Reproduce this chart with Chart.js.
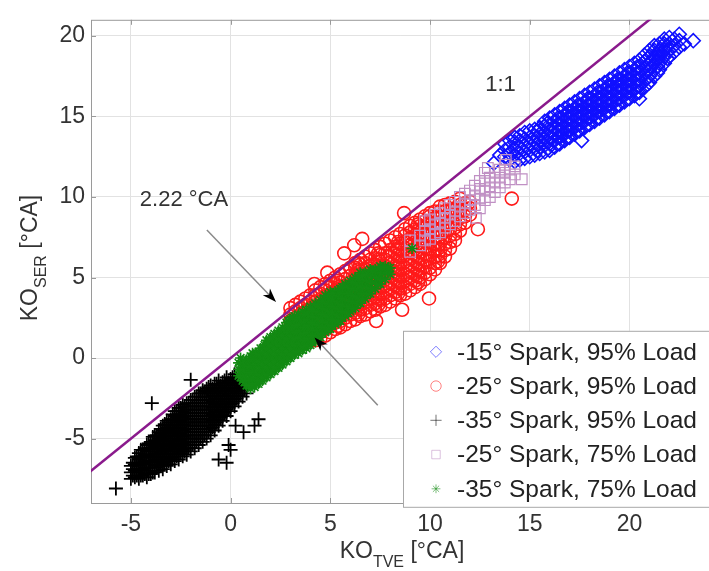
<!DOCTYPE html>
<html>
<head>
<meta charset="utf-8">
<script src="https://cdn.jsdelivr.net/npm/chart.js@4/dist/chart.umd.min.js"></script>
<style>
  html, body { margin: 0; padding: 0; background: #fff; overflow: hidden; }
  #wrap { width: 709px; height: 571px; overflow: hidden; }
</style>
</head>
<body>
<div id="wrap"><canvas id="koChart" width="718" height="571"></canvas></div>
<script>
// --- datos ---
const xLimits = [-7, 24];
const yLimits = [-9, 21];
const xTicks = [-5, 0, 5, 10, 15, 20];
const yTicks = [-5, 0, 5, 10, 15, 20];

const seriesLabels = [
    '-15° Spark, 95% Load',
    '-25° Spark, 95% Load',
    '-35° Spark, 95% Load',
    '-25° Spark, 75% Load',
    '-35° Spark, 75% Load'
];

// Cada fila: [KO_TVE, KO_SER, KO_SER, ...] leída columna a columna de la nube

// -15° Spark, 95% Load (diamantes azules)
const spark15Load95 = [
    [13.2, 12.1], [13.5, 12.6], [13.75, 12.5, 12.9, 13.3], [14.0, 12.3, 12.7, 13.1, 13.5],
    [14.25, 12.2, 12.6, 13.0, 13.4, 13.7], [14.5, 12.3, 12.7, 13.1, 13.5, 13.8],
    [14.75, 12.4, 12.8, 13.2, 13.6, 14.0], [15.0, 12.5, 12.9, 13.3, 13.7, 14.1],
    [15.25, 12.6, 13.0, 13.4, 13.8, 14.2], [15.5, 12.7, 13.1, 13.5, 13.9, 14.3],
    [15.75, 12.8, 13.2, 13.6, 14.0, 14.4, 14.7], [16.0, 12.9, 13.3, 13.7, 14.1, 14.5, 14.9],
    [16.25, 13.1, 13.5, 13.9, 14.3, 14.7, 15.1], [16.5, 13.3, 13.7, 14.1, 14.5, 14.9, 15.3],
    [16.75, 13.5, 13.9, 14.3, 14.7, 15.1, 15.5], [17.0, 13.7, 14.1, 14.5, 14.9, 15.3, 15.7],
    [17.25, 13.9, 14.3, 14.7, 15.1, 15.5, 15.9], [17.5, 14.1, 14.5, 14.9, 15.3, 15.7, 16.1],
    [17.6, 13.5], [17.75, 14.3, 14.7, 15.1, 15.5, 15.9, 16.3], [18.0, 14.5, 14.9, 15.3, 15.7, 16.1, 16.5],
    [18.25, 14.7, 15.1, 15.5, 15.9, 16.3, 16.7], [18.5, 14.9, 15.3, 15.7, 16.1, 16.5, 16.9],
    [18.75, 15.1, 15.5, 15.9, 16.3, 16.7, 17.1], [19.0, 15.3, 15.7, 16.1, 16.5, 16.9, 17.3],
    [19.25, 15.5, 15.9, 16.3, 16.7, 17.1, 17.5], [19.5, 15.7, 16.1, 16.5, 16.9, 17.3, 17.7],
    [19.75, 15.9, 16.3, 16.7, 17.1, 17.5, 17.9], [20.0, 16.1, 16.5, 16.9, 17.3, 17.7, 18.1],
    [20.25, 16.3, 16.7, 17.1, 17.5, 17.9, 18.3], [20.5, 16.1, 16.5, 16.9, 17.3, 17.7, 18.1, 18.5],
    [20.75, 16.8, 17.2, 17.6, 18.0, 18.4, 18.8], [21.0, 17.1, 17.5, 17.9, 18.3, 18.7, 19.1],
    [21.25, 17.5, 17.9, 18.3, 18.7, 19.1, 19.4], [21.5, 17.9, 18.3, 18.7, 19.1, 19.5],
    [21.75, 18.3, 18.7, 19.1, 19.5, 19.8], [22.0, 18.7, 19.1, 19.5, 19.9],
    [22.25, 19.0, 19.4, 19.8], [22.5, 19.3, 19.7, 20.1], [22.75, 19.5], [23.2, 19.7],
    // columnas intermedias
    [15.4, 12.9, 13.3, 13.7, 14.1], [15.9, 13.0, 13.4, 13.8, 14.2, 14.6], [16.4, 13.3, 13.7, 14.1, 14.5, 14.9],
    [16.9, 13.7, 14.1, 14.5, 14.9, 15.3], [17.4, 14.1, 14.5, 14.9, 15.3, 15.7], [17.9, 14.5, 14.9, 15.3, 15.7, 16.1],
    [18.4, 14.9, 15.3, 15.7, 16.1, 16.5], [18.9, 15.3, 15.7, 16.1, 16.5, 16.9], [19.4, 15.7, 16.1, 16.5, 16.9, 17.3],
    [19.9, 16.1, 16.5, 16.9, 17.3, 17.7], [20.4, 16.5, 16.9, 17.3, 17.7, 18.1], [20.9, 17.0, 17.4, 17.8, 18.2, 18.6],
    [21.4, 17.7, 18.1, 18.5, 18.9], [21.9, 18.6, 19.0, 19.4]
];

// -25° Spark, 95% Load (círculos rojos)
const spark25Load95 = [
    [3.0, 1.9, 2.3, 2.7, 3.1], [3.25, 1.7, 2.1, 2.5, 2.9, 3.3], [3.5, 1.5, 1.9, 2.3, 2.7, 3.1, 3.5],
    [3.75, 1.3, 1.7, 2.1, 2.5, 2.9, 3.3, 3.7], [4.0, 1.1, 1.5, 1.9, 2.3, 2.7, 3.1, 3.5, 3.9],
    [4.2, 4.6], [4.25, 1.1, 1.5, 1.9, 2.3, 2.7, 3.1, 3.5, 3.9, 4.2],
    [4.5, 1.2, 1.6, 2.0, 2.4, 2.8, 3.2, 3.6, 4.0, 4.4],
    [4.75, 1.4, 1.8, 2.2, 2.6, 3.0, 3.4, 3.8, 4.2, 4.6], [4.85, 5.3],
    [5.0, 1.6, 2.0, 2.4, 2.8, 3.2, 3.6, 4.0, 4.4, 4.8],
    [5.25, 1.8, 2.2, 2.6, 3.0, 3.4, 3.8, 4.2, 4.6, 5.0],
    [5.5, 1.9, 2.3, 2.7, 3.1, 3.5, 3.9, 4.3, 4.7, 5.2], [5.7, 6.5],
    [5.75, 2.1, 2.5, 2.9, 3.3, 3.7, 4.1, 4.5, 4.9, 5.4],
    [6.0, 2.3, 2.7, 3.1, 3.5, 3.9, 4.3, 4.7, 5.1, 5.6], [6.2, 7.0],
    [6.25, 2.4, 2.8, 3.2, 3.6, 4.0, 4.4, 4.8, 5.2, 5.6, 5.9],
    [6.5, 2.6, 3.0, 3.4, 3.8, 4.2, 4.6, 5.0, 5.4, 5.8, 6.1], [6.6, 7.4],
    [6.75, 2.7, 3.1, 3.5, 3.9, 4.3, 4.7, 5.1, 5.5, 5.9, 6.3],
    [7.0, 2.9, 3.3, 3.7, 4.1, 4.5, 4.9, 5.3, 5.7, 6.1, 6.5],
    [7.25, 3.0, 3.4, 3.8, 4.2, 4.6, 5.0, 5.4, 5.8, 6.2, 6.7], [7.3, 2.3],
    [7.5, 3.2, 3.6, 4.0, 4.4, 4.8, 5.2, 5.6, 6.0, 6.4, 6.9],
    [7.75, 3.3, 3.7, 4.1, 4.5, 4.9, 5.3, 5.7, 6.1, 6.5, 7.1],
    [8.0, 3.5, 3.9, 4.3, 4.7, 5.1, 5.5, 5.9, 6.3, 6.7, 7.3],
    [8.25, 3.7, 4.1, 4.5, 4.9, 5.3, 5.7, 6.1, 6.5, 6.9, 7.5],
    [8.5, 3.9, 4.3, 4.7, 5.1, 5.5, 5.9, 6.3, 6.7, 7.1, 7.7], [8.6, 3.0], [8.7, 9.0],
    [8.75, 4.0, 4.4, 4.8, 5.2, 5.6, 6.0, 6.4, 6.8, 7.2, 7.6, 8.0],
    [9.0, 4.2, 4.6, 5.0, 5.4, 5.8, 6.2, 6.6, 7.0, 7.4, 7.8, 8.2],
    [9.25, 4.4, 4.8, 5.2, 5.6, 6.0, 6.4, 6.8, 7.2, 7.6, 8.0, 8.4],
    [9.5, 4.6, 5.0, 5.4, 5.8, 6.2, 6.6, 7.0, 7.4, 7.8, 8.2, 8.6],
    [9.75, 4.9, 5.3, 5.7, 6.1, 6.5, 6.9, 7.3, 7.7, 8.1, 8.5, 8.8], [9.95, 3.7],
    [10.0, 5.2, 5.6, 6.0, 6.4, 6.8, 7.2, 7.6, 8.0, 8.4, 8.8, 9.0],
    [10.25, 5.5, 5.9, 6.3, 6.7, 7.1, 7.5, 7.9, 8.3, 8.7, 9.1],
    [10.5, 5.9, 6.3, 6.7, 7.1, 7.5, 7.9, 8.3, 8.7, 9.1, 9.4],
    [10.75, 6.3, 6.7, 7.1, 7.5, 7.9, 8.3, 8.7, 9.1, 9.5],
    [11.0, 6.8, 7.2, 7.6, 8.0, 8.4, 8.8, 9.2, 9.6], [11.25, 7.3, 7.7, 8.1, 8.5, 8.9, 9.3, 9.7],
    [11.5, 7.9, 8.3, 8.7, 9.1, 9.5, 9.9], [11.75, 8.4, 8.8, 9.2, 9.6], [12.0, 8.9, 9.3, 9.7],
    [12.4, 8.0], [14.1, 9.9],
    // columnas intermedias
    [5.4, 2.0, 2.4, 2.8, 3.2, 3.6, 4.0, 4.4, 4.8], [6.4, 2.7, 3.1, 3.5, 3.9, 4.3, 4.7, 5.1, 5.5, 5.9],
    [7.4, 3.3, 3.7, 4.1, 4.5, 4.9, 5.3, 5.7, 6.1, 6.5], [8.4, 4.0, 4.4, 4.8, 5.2, 5.6, 6.0, 6.4, 6.8, 7.2],
    [9.4, 4.7, 5.1, 5.5, 5.9, 6.3, 6.7, 7.1, 7.5, 7.9, 8.3], [10.4, 6.0, 6.4, 6.8, 7.2, 7.6, 8.0, 8.4, 8.8]
];

// -35° Spark, 95% Load (cruces negras)
const spark35Load95 = [
    [-5.75, -8.1], [-5.0, -7.5, -7.1, -6.7], [-4.8, -7.4, -7.0, -6.6, -6.2],
    [-4.6, -7.5, -7.1, -6.7, -6.3, -5.9], [-4.4, -7.3, -6.9, -6.5, -6.1, -5.7],
    [-4.2, -7.4, -7.0, -6.6, -6.2, -5.8, -5.4], [-4.0, -7.2, -6.8, -6.4, -6.0, -5.6, -5.2],
    [-3.95, -2.8], [-3.8, -7.1, -6.7, -6.3, -5.9, -5.5, -5.1, -4.8],
    [-3.6, -7.0, -6.6, -6.2, -5.8, -5.4, -5.0, -4.6],
    [-3.4, -6.9, -6.5, -6.1, -5.7, -5.3, -4.9, -4.5, -4.2],
    [-3.2, -6.7, -6.3, -5.9, -5.5, -5.1, -4.7, -4.3, -3.9],
    [-3.0, -6.6, -6.2, -5.8, -5.4, -5.0, -4.6, -4.2, -3.8],
    [-2.8, -6.4, -6.0, -5.6, -5.2, -4.8, -4.4, -4.0, -3.6, -3.3],
    [-2.6, -6.3, -5.9, -5.5, -5.1, -4.7, -4.3, -3.9, -3.5, -3.1],
    [-2.4, -6.1, -5.7, -5.3, -4.9, -4.5, -4.1, -3.7, -3.3, -2.9],
    [-2.2, -6.0, -5.6, -5.2, -4.8, -4.4, -4.0, -3.6, -3.2, -2.8],
    [-2.0, -5.8, -5.4, -5.0, -4.6, -4.2, -3.8, -3.4, -3.0, -2.6, -1.35],
    [-1.8, -5.6, -5.2, -4.8, -4.4, -4.0, -3.6, -3.2, -2.8, -2.4],
    [-1.6, -5.4, -5.0, -4.6, -4.2, -3.8, -3.4, -3.0, -2.6, -2.2],
    [-1.4, -5.2, -4.8, -4.4, -4.0, -3.6, -3.2, -2.8, -2.4, -2.0],
    [-1.2, -5.0, -4.6, -4.2, -3.8, -3.4, -3.0, -2.6, -2.2, -1.9],
    [-1.0, -4.8, -4.4, -4.0, -3.6, -3.2, -2.8, -2.4, -2.0, -1.7],
    [-0.8, -4.5, -4.1, -3.7, -3.3, -2.9, -2.5, -2.1, -1.6],
    [-0.6, -6.3, -4.2, -3.8, -3.4, -3.0, -2.6, -2.2, -1.8, -1.4],
    [-0.4, -3.9, -3.5, -3.1, -2.7, -2.3, -1.9, -1.5],
    [-0.2, -6.5, -3.6, -3.2, -2.8, -2.4, -2.0, -1.6, -1.2],
    [-0.1, -5.4], [0.0, -5.7, -3.3, -2.9, -2.5, -2.1, -1.7, -1.3],
    [0.2, -3.0, -2.6, -2.2, -1.8, -1.4, -1.0], [0.25, -4.2],
    [0.4, -2.7, -2.3, -1.9, -1.5, -1.1], [0.6, -2.4, -2.0, -1.6], [0.65, -4.6],
    [0.8, -2.2, -1.8], [1.2, -4.2], [1.4, -3.8],
    // columnas intermedias
    [-4.9, -7.3, -6.9, -6.5], [-4.7, -7.3, -6.9, -6.5, -6.1], [-4.5, -7.3, -6.9, -6.5, -6.1, -5.7],
    [-4.3, -7.2, -6.8, -6.4, -6.0, -5.6], [-4.1, -7.2, -6.8, -6.4, -6.0, -5.6, -5.3],
    [-3.9, -7.1, -6.5, -6.1, -5.7, -5.3, -4.9], [-3.7, -6.8, -6.4, -6.0, -5.6, -5.2, -4.8],
    [-3.5, -6.7, -6.3, -5.9, -5.5, -5.1, -4.7, -4.4], [-3.3, -6.5, -6.1, -5.7, -5.3, -4.9, -4.5, -4.1],
    [-3.1, -6.4, -6.0, -5.6, -5.2, -4.8, -4.4, -4.0], [-2.9, -6.2, -5.8, -5.4, -5.0, -4.6, -4.2, -3.8, -3.5],
    [-2.7, -6.1, -5.7, -5.3, -4.9, -4.5, -4.1, -3.7, -3.3], [-2.5, -5.9, -5.5, -5.1, -4.7, -4.3, -3.9, -3.5, -3.1],
    [-2.3, -5.8, -5.4, -5.0, -4.6, -4.2, -3.8, -3.4, -3.0], [-2.1, -5.6, -5.2, -4.8, -4.4, -4.0, -3.6, -3.2, -2.8],
    [-1.9, -5.4, -5.0, -4.6, -4.2, -3.8, -3.4, -3.0, -2.6], [-1.7, -5.2, -4.8, -4.4, -4.0, -3.6, -3.2, -2.8, -2.4],
    [-1.5, -5.0, -4.6, -4.2, -3.8, -3.4, -3.0, -2.6, -2.2], [-1.3, -4.8, -4.4, -4.0, -3.6, -3.2, -2.8, -2.4, -2.1],
    [-1.1, -4.6, -4.2, -3.8, -3.4, -3.0, -2.6, -2.2, -1.8], [-0.9, -4.3, -3.9, -3.5, -3.1, -2.7, -2.3, -1.9],
    [-0.7, -4.0, -3.6, -3.2, -2.8, -2.4, -2.0, -1.6], [-0.5, -3.7, -3.3, -2.9, -2.5, -2.1, -1.7],
    [-0.3, -3.4, -3.0, -2.6, -2.2, -1.8, -1.4], [-0.1, -3.1, -2.7, -2.3, -1.9, -1.5],
    [0.1, -2.8, -2.4, -2.0, -1.6, -1.2], [0.3, -2.5, -2.1, -1.7, -1.3], [0.5, -2.2, -1.8, -1.4], [0.7, -2.0, -1.6]
];

// -25° Spark, 75% Load (cuadrados)
const spark25Load75 = [
    [9.0, 6.6, 7.3], [9.5, 7.0, 7.6], [9.75, 7.3, 7.9, 8.5], [10.0, 7.4, 8.0, 8.6],
    [10.25, 7.7, 8.3, 8.9], [10.5, 7.8, 8.4, 9.0], [10.75, 8.1, 8.7, 9.3], [11.0, 8.3, 8.9, 9.5],
    [11.25, 8.5, 9.1, 9.7], [11.5, 8.8, 9.4, 10.0], [11.75, 9.0, 9.6, 10.2], [12.0, 9.2, 9.8, 10.4],
    [12.25, 9.5, 10.1, 10.7], [12.3, 8.7], [12.5, 9.3, 9.9, 10.5, 11.0], [12.75, 9.8, 10.4, 11.0, 11.5],
    [12.9, 11.8], [13.0, 10.0, 10.6, 11.2], [13.25, 10.3, 10.9, 11.5], [13.5, 10.6, 11.2, 11.7],
    [13.75, 10.9, 11.5, 12.0], [13.8, 12.3], [14.0, 11.1, 11.7], [14.25, 11.4, 11.9], [14.6, 11.1]
];

// -35° Spark, 75% Load (asteriscos verdes)
const spark35Load75 = [
    [0.4, -1.1, -0.7, -0.3], [0.6, -1.4, -1.0, -0.6, -0.2], [0.8, -1.7, -1.3, -0.9, -0.5, -0.1],
    [1.0, -1.9, -1.5, -1.1, -0.7, -0.3, 0.1], [1.2, -1.8, -1.4, -1.0, -0.6, -0.2, 0.2],
    [1.4, -1.6, -1.2, -0.8, -0.4, 0.0, 0.4], [1.6, -1.4, -1.0, -0.6, -0.2, 0.2, 0.6],
    [1.8, -1.2, -0.8, -0.4, 0.0, 0.4, 0.8, 1.1], [2.0, -1.0, -0.6, -0.2, 0.2, 0.6, 1.0, 1.3],
    [2.2, -0.8, -0.4, 0.0, 0.4, 0.8, 1.2, 1.5], [2.4, -0.6, -0.2, 0.2, 0.6, 1.0, 1.4, 1.7],
    [2.6, -0.4, 0.0, 0.4, 0.8, 1.2, 1.6, 1.9], [2.8, -0.2, 0.2, 0.6, 1.0, 1.4, 1.8, 2.2],
    [3.0, 0.0, 0.4, 0.8, 1.2, 1.6, 2.0, 2.4], [3.2, 0.2, 0.6, 1.0, 1.4, 1.8, 2.2, 2.6],
    [3.4, 0.3, 0.7, 1.1, 1.5, 1.9, 2.3, 2.7], [3.6, 0.5, 0.9, 1.3, 1.7, 2.1, 2.5, 2.9],
    [3.8, 0.6, 1.0, 1.4, 1.8, 2.2, 2.6, 3.0], [4.0, 0.8, 1.2, 1.6, 2.0, 2.4, 2.8, 3.2],
    [4.25, 1.0, 1.4, 1.8, 2.2, 2.6, 3.0, 3.4], [4.5, 1.3, 1.7, 2.1, 2.5, 2.9, 3.3, 3.6],
    [4.75, 1.6, 2.0, 2.4, 2.8, 3.2, 3.6, 3.9], [5.0, 1.8, 2.2, 2.6, 3.0, 3.4, 3.8, 4.1],
    [5.25, 2.1, 2.5, 2.9, 3.3, 3.7, 4.1], [5.5, 2.3, 2.7, 3.1, 3.5, 3.9, 4.3],
    [5.75, 2.6, 3.0, 3.4, 3.8, 4.2, 4.6], [6.0, 2.9, 3.3, 3.7, 4.1, 4.5, 4.8],
    [6.25, 3.1, 3.5, 3.9, 4.3, 4.7, 5.0], [6.5, 3.4, 3.8, 4.2, 4.6, 5.0, 5.3],
    [6.75, 3.7, 4.1, 4.5, 4.9, 5.3], [7.0, 4.0, 4.4, 4.8, 5.2, 5.5], [7.25, 4.3, 4.7, 5.1, 5.5],
    [7.5, 4.6, 5.0, 5.4, 5.7], [7.75, 4.9, 5.3, 5.7], [8.0, 5.2, 5.6], [9.1, 6.8],
    // columnas intermedias
    [0.5, -1.2, -0.8, -0.4, 0.0], [0.7, -1.5, -1.1, -0.7, -0.3], [0.9, -1.7, -1.3, -0.9, -0.5, -0.1],
    [1.1, -1.7, -1.3, -0.9, -0.5, -0.1, 0.3], [1.3, -1.6, -1.2, -0.8, -0.4, 0.0, 0.3],
    [1.5, -1.4, -1.0, -0.6, -0.2, 0.2, 0.6], [1.7, -1.2, -0.8, -0.4, 0.0, 0.4, 0.8],
    [1.9, -1.0, -0.6, -0.2, 0.2, 0.6, 1.0], [2.1, -0.8, -0.4, 0.0, 0.4, 0.8, 1.2],
    [2.3, -0.6, -0.2, 0.2, 0.6, 1.0, 1.4], [2.5, -0.4, 0.0, 0.4, 0.8, 1.2, 1.6],
    [2.7, -0.2, 0.2, 0.6, 1.0, 1.4, 1.8], [2.9, 0.0, 0.4, 0.8, 1.2, 1.6, 2.0, 2.3],
    [3.1, 0.2, 0.6, 1.0, 1.4, 1.8, 2.2, 2.5], [3.3, 0.4, 0.8, 1.2, 1.6, 2.0, 2.4],
    [3.5, 0.5, 0.9, 1.3, 1.7, 2.1, 2.5], [3.7, 0.7, 1.1, 1.5, 1.9, 2.3, 2.7],
    [3.9, 0.8, 1.2, 1.6, 2.0, 2.4, 2.8], [4.1, 1.0, 1.4, 1.8, 2.2, 2.6, 3.0],
    [4.4, 1.3, 1.7, 2.1, 2.5, 2.9, 3.3], [4.6, 1.5, 1.9, 2.3, 2.7, 3.1, 3.5],
    [4.9, 1.8, 2.2, 2.6, 3.0, 3.4, 3.8], [5.1, 2.0, 2.4, 2.8, 3.2, 3.6, 4.0],
    [5.4, 2.3, 2.7, 3.1, 3.5, 3.9, 4.2], [5.6, 2.5, 2.9, 3.3, 3.7, 4.1, 4.4],
    [5.9, 2.8, 3.2, 3.6, 4.0, 4.4], [6.1, 3.1, 3.5, 3.9, 4.3, 4.7], [6.4, 3.4, 3.8, 4.2, 4.6, 5.0],
    [6.6, 3.6, 4.0, 4.4, 4.8, 5.1], [6.9, 4.0, 4.4, 4.8, 5.2], [7.1, 4.3, 4.7, 5.1, 5.4],
    [7.4, 4.6, 5.0, 5.4], [7.6, 4.9, 5.3, 5.6], [7.9, 5.3, 5.6]
];

// línea 1:1
const oneToOne = [[-9, -9], [24, 24]];

// anotaciones (en unidades de datos)
const arrows = [
    { from: [-1.19, 7.95], to: [2.28, 3.48] },
    { from: [7.38, -2.93], to: [4.21, 1.28] }
];
const notes = [
    { text: '2.22 °CA', at: [-4.55, 9.41] },
    { text: '1:1', at: [12.77, 16.6] }
];

const FONT = '"Liberation Sans", Arial, sans-serif';
const toXY = (arr) => arr.map(p => ({ x: p[0], y: p[1] }));
const rowsToXY = (rows) => rows.flatMap(r => r.slice(1).map(v => ({ x: r[0], y: v })));

// Dibuja texto con subíndice, centrado en x
function drawRich(ctx, parts, x, y, size) {
    const subSize = Math.round(size * 0.7);
    let total = 0;
    parts.forEach(p => {
        ctx.font = (p[1] ? subSize : size) + 'px ' + FONT;
        total += ctx.measureText(p[0]).width;
    });
    let cx = x - total / 2;
    parts.forEach(p => {
        ctx.font = (p[1] ? subSize : size) + 'px ' + FONT;
        ctx.fillText(p[0], cx, p[1] ? y + size * 0.38 : y);
        cx += ctx.measureText(p[0]).width;
    });
}

// --- plugin para marco, títulos, flechas y leyenda ---
const decoPlugin = {
    id: 'deco',
    beforeDatasetsDraw(chart) {
        const { ctx, chartArea: a, scales } = chart;
        ctx.save();
        ctx.strokeStyle = '#9a9a9a';
        ctx.lineWidth = 1;
        ctx.strokeRect(a.left + 0.5, a.top + 0.5, a.right - a.left, a.bottom - a.top);
        // marcas interiores
        ctx.beginPath();
        xTicks.forEach(v => {
            const px = Math.round(scales.x.getPixelForValue(v)) + 0.5;
            ctx.moveTo(px, a.bottom); ctx.lineTo(px, a.bottom - 5);
            ctx.moveTo(px, a.top); ctx.lineTo(px, a.top + 5);
        });
        yTicks.forEach(v => {
            const py = Math.round(scales.y.getPixelForValue(v)) + 0.5;
            ctx.moveTo(a.left, py); ctx.lineTo(a.left + 5, py);
        });
        ctx.stroke();
        ctx.restore();
    },
    afterDraw(chart) {
        const { ctx, chartArea: a, scales } = chart;
        const sx = (v) => scales.x.getPixelForValue(v);
        const sy = (v) => scales.y.getPixelForValue(v);
        ctx.save();

        // flechas
        arrows.forEach(ar => {
            const x1 = sx(ar.from[0]), y1 = sy(ar.from[1]);
            const x2 = sx(ar.to[0]), y2 = sy(ar.to[1]);
            const ang = Math.atan2(y2 - y1, x2 - x1);
            ctx.strokeStyle = '#8a8a8a';
            ctx.lineWidth = 1.5;
            ctx.beginPath();
            ctx.moveTo(x1, y1);
            ctx.lineTo(x2 - 8 * Math.cos(ang), y2 - 8 * Math.sin(ang));
            ctx.stroke();
            ctx.fillStyle = '#000';
            ctx.beginPath();
            ctx.moveTo(x2, y2);
            ctx.lineTo(x2 - 14 * Math.cos(ang) + 5 * Math.sin(ang), y2 - 14 * Math.sin(ang) - 5 * Math.cos(ang));
            ctx.lineTo(x2 - 10 * Math.cos(ang), y2 - 10 * Math.sin(ang));
            ctx.lineTo(x2 - 14 * Math.cos(ang) - 5 * Math.sin(ang), y2 - 14 * Math.sin(ang) + 5 * Math.cos(ang));
            ctx.closePath();
            ctx.fill();
        });

        // textos
        ctx.fillStyle = '#333';
        ctx.textBaseline = 'alphabetic';
        ctx.textAlign = 'left';
        ctx.font = '22px ' + FONT;
        notes.forEach(n => ctx.fillText(n.text, sx(n.at[0]), sy(n.at[1])));

        // títulos de ejes
        drawRich(ctx, [['KO', false], ['TVE', true], [' [°CA]', false]], 402, 558, 23);
        ctx.save();
        ctx.translate(27, 258);
        ctx.rotate(-Math.PI / 2);
        drawRich(ctx, [['KO', false], ['SER', true], [' [°CA]', false]], 0, 10, 23);
        ctx.restore();

        // leyenda
        const lx = a.left + 312, ly = a.top + 311, lh = 176;
        ctx.fillStyle = '#fff';
        ctx.fillRect(lx, ly, chart.width - lx + 5, lh);
        ctx.strokeStyle = '#a8a8a8';
        ctx.lineWidth = 1;
        ctx.strokeRect(lx + 0.5, ly + 0.5, chart.width - lx + 5, lh);
        chart.data.datasets.forEach((ds) => {
            if (!seriesLabels.includes(ds.label)) return;
            const k = seriesLabels.indexOf(ds.label);
            const ry = ly + 21 + k * 34.25;
            ctx.save();
            ctx.globalAlpha = 0.55;
            ctx.strokeStyle = ds.borderColor;
            ctx.fillStyle = ds.backgroundColor;
            ctx.lineWidth = 1;
            Chart.helpers.drawPoint(ctx, { pointStyle: ds.pointStyle, radius: ds.pointRadius * 0.8, borderWidth: 1 }, lx + 33, ry);
            ctx.restore();
            ctx.fillStyle = '#222';
            ctx.textBaseline = 'middle';
            ctx.font = '24.5px ' + FONT;
            ctx.fillText(ds.label, lx + 54, ry + 1);
        });
        ctx.restore();
    }
};

const markerSet = (label, rows, style, radius, width, color, order) => ({
    label: label,
    data: rowsToXY(rows),
    pointStyle: style,
    pointRadius: radius,
    pointBorderWidth: width,
    borderColor: color,
    backgroundColor: 'rgba(0,0,0,0)',
    showLine: false,
    order: order
});

new Chart(document.getElementById('koChart'), {
    type: 'scatter',
    data: {
        datasets: [
            {
                label: '1:1',
                data: toXY(oneToOne),
                showLine: true,
                borderColor: '#8a1a8c',
                borderWidth: 2.5,
                pointRadius: 0,
                order: 0
            },
            markerSet(seriesLabels[0], spark15Load95, 'rectRot', 7, 1.6, '#1010ff', 6),
            markerSet(seriesLabels[1], spark25Load95, 'circle', 6.5, 1.6, '#ff1a1a', 5),
            markerSet(seriesLabels[2], spark35Load95, 'cross', 7, 1.8, '#000000', 4),
            markerSet(seriesLabels[3], spark25Load75, 'rect', 7.5, 1.2, '#c090c4', 3),
            markerSet(seriesLabels[4], spark35Load75, 'star', 5.5, 1.6, '#138a13', 2)
        ]
    },
    options: {
        responsive: false,
        animation: false,
        events: [],
        layout: { padding: { top: 10, right: 1, left: 0, bottom: 0 } },
        plugins: { legend: { display: false }, tooltip: { enabled: false } },
        scales: {
            x: {
                type: 'linear',
                min: xLimits[0],
                max: xLimits[1],
                afterBuildTicks: (s) => { s.ticks = xTicks.map(v => ({ value: v })); },
                afterFit: (s) => { s.height = 68; },
                grid: { color: '#e2e2e2', drawTicks: false },
                border: { display: false },
                ticks: { color: '#333', padding: 8, maxRotation: 0, font: { family: FONT, size: 23 } }
            },
            y: {
                type: 'linear',
                min: yLimits[0],
                max: yLimits[1],
                afterBuildTicks: (s) => { s.ticks = yTicks.map(v => ({ value: v })); },
                afterFit: (s) => { s.width = 91; },
                grid: { color: '#e2e2e2', drawTicks: false },
                border: { display: false },
                ticks: { color: '#333', padding: 6, font: { family: FONT, size: 23 } }
            }
        }
    },
    plugins: [decoPlugin]
});
</script>
</body>
</html>
